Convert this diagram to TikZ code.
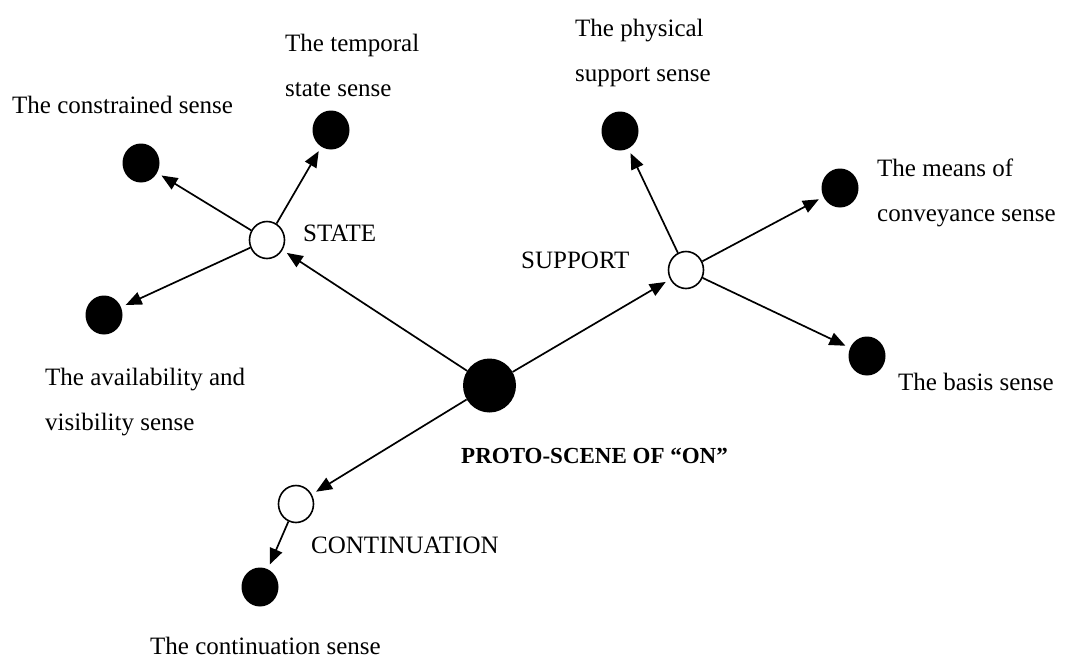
\documentclass[tikz,border=0pt]{standalone}
\usepackage{fontspec}
\setmainfont{Liberation Serif}
\usetikzlibrary{arrows.meta,shapes.geometric}
\tikzset{
  dot/.style={ellipse, fill=black, inner sep=0pt, minimum width=37pt, minimum height=39pt},
  bigdot/.style={ellipse, fill=black, inner sep=0pt, minimum width=53pt, minimum height=54pt},
  hollow/.style={ellipse, draw=black, fill=white, line width=1.6pt, inner sep=0pt, minimum width=35pt, minimum height=37pt},
  lbl/.style={inner sep=0pt, font=\fontsize{25}{45}\selectfont, align=left},
  boldlbl/.style={inner sep=0pt, font=\fontsize{23}{28}\selectfont\bfseries},
  conn/.style={-{Triangle[length=16pt,width=13pt]}, line width=1.7pt, shorten >=5pt}
}
\begin{document}
\begin{tikzpicture}[x=1pt,y=-1pt]
\useasboundingbox (0,0) rectangle (1067,659);
% nodes
\node[bigdot] (P) at (489.5,385.5) {};
\node[hollow] (S) at (267,240) {};
\node[hollow] (U) at (686,270) {};
\node[hollow] (C) at (296,504) {};
\node[dot] (cons) at (141,163) {};
\node[dot] (temp) at (331,130) {};
\node[dot] (avail) at (104,315) {};
\node[dot] (phys) at (620,131) {};
\node[dot] (means) at (840,188) {};
\node[dot] (basis) at (867,356) {};
\node[dot] (cont) at (260,587) {};
% connectors
\draw[conn] (P) -- (S);
\draw[conn] (P) -- (U);
\draw[conn] (P) -- (C);
\draw[conn] (S) -- (cons);
\draw[conn] (S) -- (temp);
\draw[conn] (S) -- (avail);
\draw[conn] (U) -- (phys);
\draw[conn] (U) -- (means);
\draw[conn] (U) -- (basis);
\draw[conn] (C) -- (cont);
% labels
\node[lbl, anchor=base west] (tcons) at (12,113) {The constrained sense};
\node[lbl, anchor=north west] (ttemp) at (285,34) {The temporal\\state sense};
\node[lbl, anchor=base west] (tstate) at (303,241) {STATE};
\node[lbl, anchor=north west] (tphys) at (575,19) {The physical\\support sense};
\node[lbl, anchor=north west] (tmeans) at (877,159) {The means of\\conveyance sense};
\node[lbl, anchor=base west] (tsup) at (521,268) {SUPPORT};
\node[lbl, anchor=base west] (tbasis) at (898,390) {The basis sense};
\node[lbl, anchor=north west] (tavail) at (45,368) {The availability and\\visibility sense};
\node[boldlbl, anchor=base west] (tproto) at (461,463) {PROTO-SCENE OF “ON”};
\node[lbl, anchor=base west] (tcontin) at (311,553) {CONTINUATION};
\node[lbl, anchor=base west] (tcont) at (150,654) {The continuation sense};
\end{tikzpicture}
\end{document}
